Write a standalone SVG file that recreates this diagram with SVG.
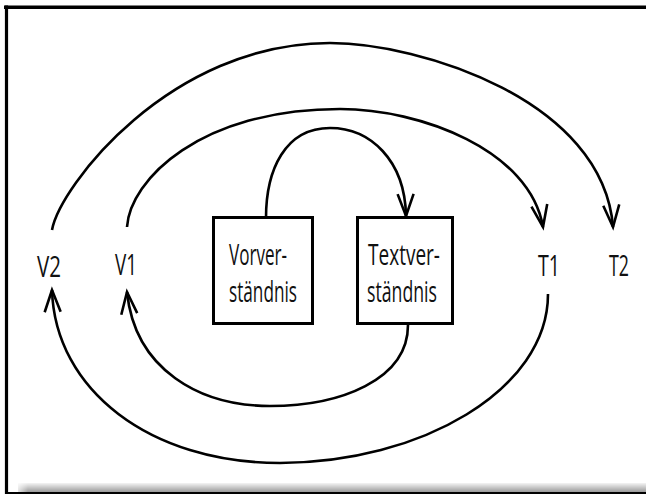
<svg xmlns="http://www.w3.org/2000/svg" width="646" height="494" viewBox="0 0 646 494">
  <defs>
    <marker id="arrow" markerUnits="userSpaceOnUse" markerWidth="30" markerHeight="24" viewBox="-26 -12 30 24" refX="0" refY="0" orient="auto">
      <path d="M-22,-8 L0,0 L-22,8" fill="none" stroke="#000" stroke-width="2.6" stroke-linejoin="miter"/>
    </marker>
    <linearGradient id="shadow" x1="0" y1="0" x2="0" y2="1">
      <stop offset="0" stop-color="#f4f4f4"/>
      <stop offset="1" stop-color="#9a9a9a"/>
    </linearGradient>
    <linearGradient id="shadowL" x1="0" y1="0" x2="1" y2="0">
      <stop offset="0" stop-color="#fff" stop-opacity="1"/>
      <stop offset="1" stop-color="#fff" stop-opacity="0"/>
    </linearGradient>
  </defs>
  <style>
    .conn { fill: none; stroke: #000; stroke-width: 2.6; }
    .box { fill: #fff; stroke: #000; stroke-width: 3; }
    .lbl { font-family: "Open Sans", "Liberation Sans", sans-serif; font-size: 30px; fill: #111; }
  </style>
  <rect x="0" y="0" width="646" height="494" fill="#fff"/>
  <g id="frame">
    <rect x="18" y="483" width="628" height="9" fill="url(#shadow)"/>
    <rect x="14" y="482" width="14" height="10" fill="url(#shadowL)"/>
    <line x1="4" y1="7.2" x2="646" y2="7.2" stroke="#000" stroke-width="3.6"/>
    <line x1="6.5" y1="5.5" x2="6.5" y2="494" stroke="#000" stroke-width="3.2"/>
    <line x1="5" y1="493" x2="646" y2="493" stroke="#000" stroke-width="2"/>
  </g>
  <g id="connectors">
    <path class="conn" d="M52,230 C60,186 170,43 330,43 C420,43 603,100 613,227" marker-end="url(#arrow)"/>
    <path class="conn" d="M127,227 C130,180 200,109 340,109 C420,109 530,150 543,227" marker-end="url(#arrow)"/>
    <path class="conn" d="M266,218 C266,170 285,128 330,128 C370,128 405,160 406,216" marker-end="url(#arrow)"/>
    <path class="conn" d="M408,325 C408,380 340,406 270,406 C200,406 135,370 127,292" marker-end="url(#arrow)"/>
    <path class="conn" d="M548,294 C548,390 420,463 280,463 C150,463 55,390 52,290" marker-end="url(#arrow)"/>
  </g>
  <g id="node-vorverstaendnis">
    <rect class="box" x="213.5" y="217.5" width="99" height="106"/>
    <text class="lbl" x="229" y="265" textLength="58" lengthAdjust="spacingAndGlyphs">Vorver-</text>
    <text class="lbl" x="229" y="302" textLength="68" lengthAdjust="spacingAndGlyphs">ständnis</text>
  </g>
  <g id="node-textverstaendnis">
    <rect class="box" x="357.5" y="217.5" width="95" height="106"/>
    <text class="lbl" x="368" y="265" textLength="72" lengthAdjust="spacingAndGlyphs">Textver-</text>
    <text class="lbl" x="367" y="302" textLength="70" lengthAdjust="spacingAndGlyphs">ständnis</text>
  </g>
  <g id="node-v2"><text class="lbl" x="37" y="277" textLength="24" lengthAdjust="spacingAndGlyphs">V2</text></g>
  <g id="node-v1"><text class="lbl" x="115" y="275" textLength="22" lengthAdjust="spacingAndGlyphs">V1</text></g>
  <g id="node-t1"><text class="lbl" x="538" y="276" textLength="22" lengthAdjust="spacingAndGlyphs">T1</text></g>
  <g id="node-t2"><text class="lbl" x="609" y="276" textLength="20" lengthAdjust="spacingAndGlyphs">T2</text></g>
</svg>
